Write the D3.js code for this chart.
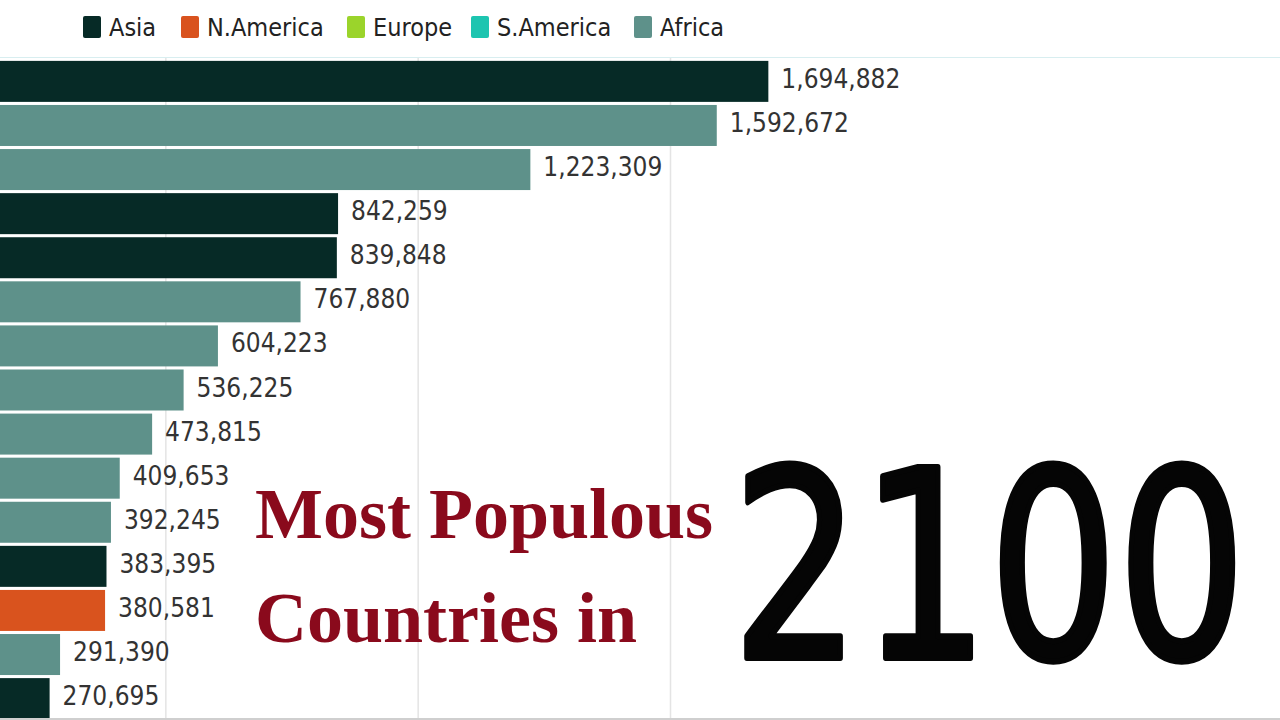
<!DOCTYPE html>
<html>
<head>
<meta charset="utf-8">
<script src="https://cdn.jsdelivr.net/npm/d3@7"></script>
<style>
  html, body { margin: 0; padding: 0; background: #fff; overflow: hidden; }
  svg { display: block; }
  .cond { font-family: 'DejaVu Sans Condensed', 'DejaVu Sans', sans-serif; font-stretch: condensed; }
</style>
</head>
<body>
<svg id="chart" width="1280" height="720"></svg>
<script>
// ---- data ----
const values = [1694882, 1592672, 1223309, 842259, 839848, 767880, 604223, 536225, 473815, 409653, 392245, 383395, 380581, 291390, 270695];
const regions = ["Asia", "Africa", "Africa", "Asia", "Asia", "Africa", "Africa", "Africa", "Africa", "Africa", "Africa", "Asia", "N.America", "Africa", "Asia"];
const legendNames = ["Asia", "N.America", "Europe", "S.America", "Africa"];
const legendColors = ["#062a26", "#d9531e", "#9bd42b", "#1dc5b0", "#5e918a"];
const gridTicks = [500000, 1000000, 1500000];
const titleLines = ["Most Populous", "Countries in"];
const yearLabel = "2100";

const svg = d3.select("#chart");
const W = 1280, H = 720;

const x = d3.scaleLinear().domain([0, 1500000]).range([-87, 670]);
const y = d3.scaleBand().domain(d3.range(values.length)).range([60, 720]).paddingInner(0.07).paddingOuter(0.02);
const color = d3.scaleOrdinal().domain(legendNames).range(legendColors);

// gridlines
const grid = svg.append("g").attr("transform", "translate(0,58)")
  .call(d3.axisBottom(x).tickValues(gridTicks).tickSize(660).tickFormat(""));
grid.select(".domain").remove();
grid.selectAll(".tick line").attr("stroke", "#e4e4e4").attr("stroke-width", 1.5);

// top faint line under legend
svg.append("line").attr("x1", 0).attr("x2", W).attr("y1", 57.5).attr("y2", 57.5)
  .attr("stroke", "#d8eef0").attr("stroke-width", 1);

// bars
svg.append("g").selectAll("rect").data(values).join("rect")
  .attr("x", x(0))
  .attr("y", (d, i) => y(i))
  .attr("width", d => x(d) - x(0))
  .attr("height", y.bandwidth())
  .attr("fill", (d, i) => color(regions[i]));

// value labels
const fmt = d3.format(",");
svg.append("g").selectAll("text").data(values).join("text")
  .attr("class", "cond")
  .attr("x", d => x(d) + 13)
  .attr("y", (d, i) => y(i) + y.bandwidth() / 2 - 1)
  .attr("dominant-baseline", "middle")
  .attr("font-size", 26)
  .attr("fill", "#333")
  .text(d => fmt(d));

// legend
const legendX = [83, 181, 347, 471, 634];
const lg = svg.append("g").selectAll("g").data(legendNames).join("g")
  .attr("transform", (d, i) => `translate(${legendX[i]},16)`);
lg.append("rect").attr("width", 18).attr("height", 22).attr("rx", 2)
  .attr("fill", d => color(d));
lg.append("text").attr("class", "cond").attr("x", 26).attr("y", 20)
  .attr("font-size", 25).attr("fill", "#222")
  .text(d => d);

// title
svg.append("g").selectAll("text").data(titleLines).join("text")
  .attr("x", 255)
  .attr("y", (d, i) => 538 + i * 104)
  .attr("font-family", "'Liberation Serif', 'Times New Roman', serif")
  .attr("font-weight", "bold")
  .attr("font-size", 72)
  .attr("fill", "#8a0a1c")
  .text(d => d);

// big year: scaled horizontally to fit the target width
const yearG = svg.append("g");
const yearT = yearG.append("text")
  .attr("class", "cond")
  .attr("x", 0).attr("y", 0)
  .attr("font-size", 262)
  .attr("fill", "#050505")
  .attr("stroke", "#050505")
  .attr("stroke-width", 6)
  .attr("stroke-linejoin", "round")
  .text(yearLabel);
const natural = yearT.node().getComputedTextLength();
const sx = 514 / natural;
yearG.attr("transform", `translate(732,658) scale(${sx},1)`);

// bottom edge
svg.append("line").attr("x1", 0).attr("x2", W).attr("y1", 719).attr("y2", 719)
  .attr("stroke", "#cfcfcf").attr("stroke-width", 2);
</script>
</body>
</html>
